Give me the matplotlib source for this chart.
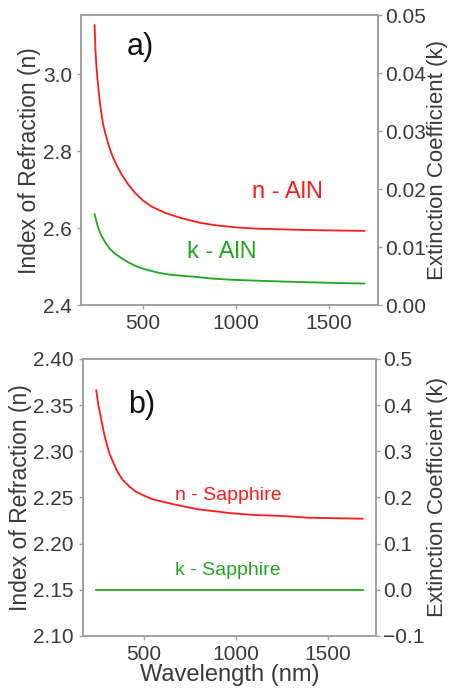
import numpy as np
import matplotlib
matplotlib.use("Agg")
import matplotlib.pyplot as plt

plt.rcParams['font.family'] = ['Liberation Sans', 'DejaVu Sans']

# AlN
wl_aln = [240, 245, 250, 255, 260, 265, 270, 278, 285, 293, 300, 315, 330, 345, 360,
          385, 420, 457, 500, 547, 618, 700, 806, 900, 1000, 1100, 1237, 1400, 1550, 1690]
n_aln = [3.127, 3.06, 3.02, 2.99, 2.965, 2.942, 2.922, 2.893, 2.872, 2.855, 2.842,
         2.816, 2.795, 2.777, 2.762, 2.740, 2.714, 2.692, 2.672, 2.656, 2.640, 2.627,
         2.614, 2.607, 2.602, 2.599, 2.597, 2.595, 2.594, 2.593]
wl_k_aln = [240, 250, 260, 275, 296, 320, 349, 385, 421, 465, 511, 570, 636, 700, 780,
            870, 968, 1100, 1237, 1400, 1550, 1690]
k_aln = [0.0157, 0.0144, 0.0133, 0.0121, 0.0109, 0.0098, 0.0089, 0.0081, 0.0074,
         0.0067, 0.0062, 0.0057, 0.0053, 0.0051, 0.0049, 0.0046, 0.0044,
         0.00425, 0.0041, 0.00395, 0.00383, 0.00374]

# Sapphire
wl_sap = [240, 252, 266, 280, 293, 310, 330, 355, 384, 420, 457, 500, 547, 610, 674,
          800, 973, 1100, 1245, 1400, 1550, 1690]
n_sap = [2.366, 2.350, 2.336, 2.322, 2.311, 2.299, 2.289, 2.278, 2.269, 2.262, 2.256,
         2.252, 2.248, 2.245, 2.242, 2.237, 2.233, 2.231, 2.230, 2.228, 2.2275, 2.227]
k_sap = [0.0] * len(wl_sap)

red = '#ff1a1a'
green = '#1fa81f'
grey = '#a0a0a0'
txt = '#3a3a3a'


def style(ax, pad=3.5):
    for s in ax.spines.values():
        s.set_color(grey)
        s.set_linewidth(1.2)
    ax.tick_params(axis='both', colors=grey, labelcolor=txt, labelsize=15,
                   length=3, width=1, pad=pad)


fig = plt.figure(figsize=(4.5, 6.89), dpi=100)

# ---- a) AlN
ax1 = fig.add_axes([0.18, 0.557, 0.66, 0.421])
ax1.plot(wl_aln, n_aln, color=red, lw=1.3)
ax1.set_xlim(167, 1763)
ax1.set_ylim(2.4, 3.153)
ax1.set_yticks([2.4, 2.6, 2.8, 3.0])
ax1.set_xticks([500, 1000, 1500])
ax1.set_ylabel('Index of Refraction (n)', fontsize=16.5, color=txt, labelpad=1)
style(ax1)
ax1r = ax1.twinx()
ax1r.plot(wl_k_aln, k_aln, color=green, lw=1.3)
ax1r.set_ylim(0, 0.05)
ax1r.set_yticks([0, 0.01, 0.02, 0.03, 0.04, 0.05])
ax1r.set_yticklabels(['0.00', '0.01', '0.02', '0.03', '0.04', '0.05'])
ax1r.set_ylabel('Extinction Coefficient (k)', fontsize=16, color=txt, labelpad=1)
style(ax1r, pad=2)
ax1.text(0.20, 0.89, 'a)', transform=ax1.transAxes, fontsize=22,
         color='#111111', ha='center', va='center')
ax1.text(0.695, 0.39, 'n - AlN', transform=ax1.transAxes, fontsize=17,
         color=red, ha='center', va='center')
ax1.text(0.475, 0.183, 'k - AlN', transform=ax1.transAxes, fontsize=17,
         color=green, ha='center', va='center')

# ---- b) Sapphire
ax2 = fig.add_axes([0.184, 0.077, 0.652, 0.402])
ax2.plot(wl_sap, n_sap, color=red, lw=1.3)
ax2.set_xlim(167, 1763)
ax2.set_ylim(2.10, 2.40)
ax2.set_yticks([2.10, 2.15, 2.20, 2.25, 2.30, 2.35, 2.40])
ax2.set_xticks([500, 1000, 1500])
ax2.set_ylabel('Index of Refraction (n)', fontsize=16.5, color=txt, labelpad=1)
ax2.set_xlabel('Wavelength (nm)', fontsize=17, color=txt, labelpad=0)
style(ax2)
ax2r = ax2.twinx()
ax2r.plot(wl_sap, k_sap, color=green, lw=1.3)
ax2r.set_ylim(-0.1, 0.5)
ax2r.set_yticks([-0.1, 0.0, 0.1, 0.2, 0.3, 0.4, 0.5])
ax2r.set_ylabel('Extinction Coefficient (k)', fontsize=16, color=txt, labelpad=2)
style(ax2r, pad=2)
ax2.text(0.20, 0.835, 'b)', transform=ax2.transAxes, fontsize=22,
         color='#111111', ha='center', va='center')
ax2.text(0.495, 0.507, 'n - Sapphire', transform=ax2.transAxes, fontsize=14,
         color=red, ha='center', va='center')
ax2.text(0.495, 0.238, 'k - Sapphire', transform=ax2.transAxes, fontsize=14,
         color=green, ha='center', va='center')

fig.savefig('out.png', dpi=100)
